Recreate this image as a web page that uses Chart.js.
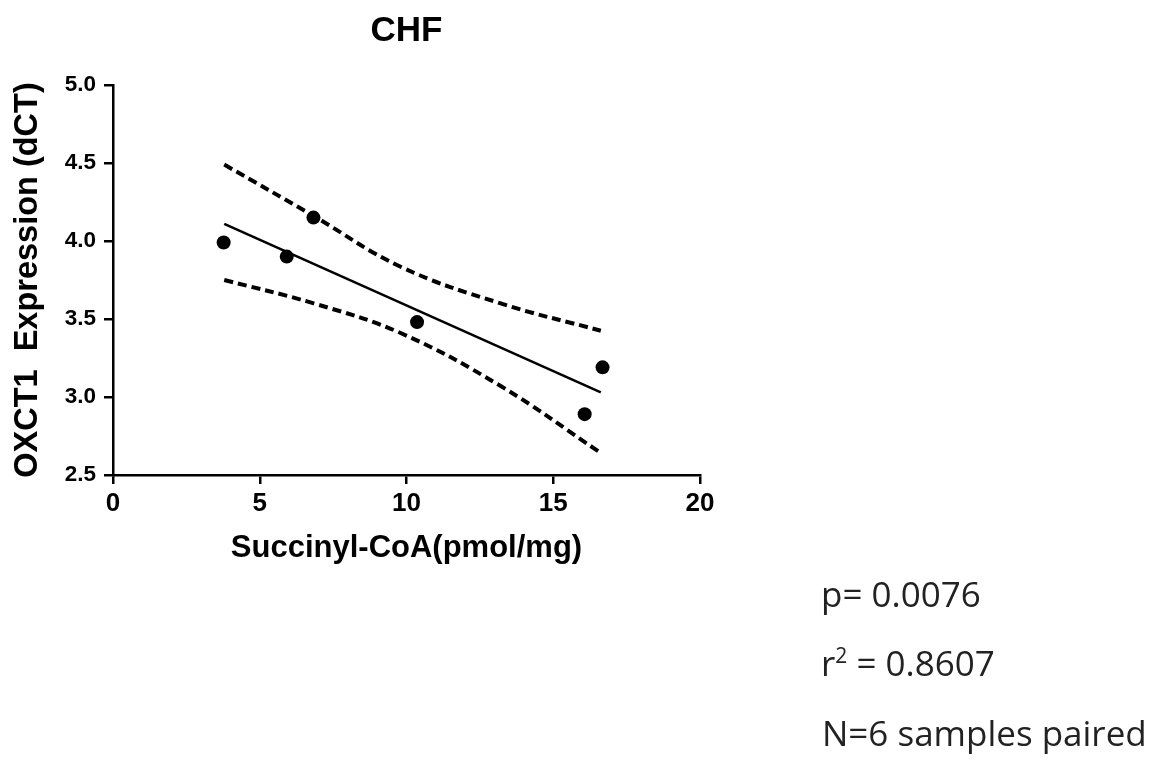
<!DOCTYPE html>
<html>
<head>
<meta charset="utf-8">
<script src="https://cdn.jsdelivr.net/npm/chart.js@4/dist/chart.umd.min.js"></script>
<style>
  html, body { margin: 0; padding: 0; background: #fff; }
  #wrap { position: relative; width: 1168px; height: 762px; }
  .note { position: absolute; font-family: "Open Sans", Lato, sans-serif; font-size: 35px; line-height: 42px; color: #222; white-space: nowrap; }
  .note sup { font-size: 21px; vertical-align: 13px; line-height: 0; }
</style>
</head>
<body>
<div id="wrap">
  <canvas id="c" width="1168" height="762"></canvas>
  <div class="note" style="left:821px; top:573px;">p= 0.0076</div>
  <div class="note" style="left:821px; top:642px;">r<sup>2</sup> = 0.8607</div>
  <div class="note" style="left:822px; top:712px;">N=6 samples paired</div>
</div>
<script>
// Measured samples (Succinyl-CoA pmol/mg vs OXCT1 dCT)
const succinylCoA = [3.77, 5.92, 6.83, 10.36, 16.07, 16.68];
const oxct1 = [3.99, 3.90, 4.15, 3.48, 2.89, 3.19];

// Regression line endpoints
const fitX = [3.79, 16.62];
const fitY = [4.11, 3.03];

// 95% confidence band curves
const upperX = [3.79, 6.84, 9.80, 13.21, 16.62];
const upperY = [4.49, 4.16, 3.835, 3.60, 3.425];
const lowerX = [3.79, 6.84, 9.80, 13.21, 16.56];
const lowerY = [3.75, 3.60, 3.41, 3.07, 2.649];

// Axis ticks
const xTicks = [0, 5, 10, 15, 20];
const yTicks = [2.5, 3.0, 3.5, 4.0, 4.5, 5.0];

const toXY = (xs, ys) => xs.map((x, i) => ({ x: x, y: ys[i] }));

const FONT = "'Liberation Sans', Arial, sans-serif";

new Chart(document.getElementById('c'), {
  type: 'scatter',
  data: {
    datasets: [
      {
        label: 'Upper CI',
        data: toXY(upperX, upperY),
        showLine: true,
        borderColor: '#000',
        borderWidth: 4,
        borderDash: [9, 5],
        pointRadius: 0,
        tension: 0.4,
        fill: false
      },
      {
        label: 'Lower CI',
        data: toXY(lowerX, lowerY),
        showLine: true,
        borderColor: '#000',
        borderWidth: 4,
        borderDash: [9, 5],
        pointRadius: 0,
        tension: 0.4,
        fill: false
      },
      {
        label: 'Fit',
        data: toXY(fitX, fitY),
        showLine: true,
        borderColor: '#000',
        borderWidth: 2.5,
        pointRadius: 0,
        fill: false
      },
      {
        label: 'Samples',
        data: toXY(succinylCoA, oxct1),
        showLine: false,
        pointRadius: 7,
        pointBackgroundColor: '#000',
        pointBorderColor: '#000',
        pointBorderWidth: 0
      }
    ]
  },
  options: {
    responsive: false,
    animation: false,
    devicePixelRatio: 1,
    layout: { padding: { left: 0, right: 468, top: 0, bottom: 0 } },
    plugins: {
      legend: { display: false },
      tooltip: { enabled: false },
      title: {
        display: true,
        fullSize: false,
        text: 'CHF',
        color: '#000',
        font: { family: FONT, size: 35, weight: 'bold' },
        padding: { top: 10, bottom: 33 }
      }
    },
    scales: {
      x: {
        type: 'linear',
        min: 0,
        max: 20,
        afterFit: (s) => { s.height = 287; },
        afterBuildTicks: (s) => { s.ticks = xTicks.map(v => ({ value: v })); },
        ticks: {
          color: '#000',
          font: { family: FONT, size: 26, weight: 'bold' },
          padding: 4,
          maxRotation: 0,
          autoSkip: false
        },
        grid: {
          display: true,
          drawOnChartArea: false,
          drawTicks: true,
          tickLength: 9,
          color: '#000',
          lineWidth: 2.5
        },
        border: { display: true, color: '#000', width: 2.5 },
        title: {
          display: true,
          text: 'Succinyl-CoA(pmol/mg)',
          color: '#000',
          font: { family: FONT, size: 31, weight: 'bold' },
          padding: { top: 0, bottom: 195 }
        }
      },
      y: {
        type: 'linear',
        min: 2.5,
        max: 5.0,
        afterFit: (s) => { s.width = 113; },
        afterBuildTicks: (s) => { s.ticks = yTicks.map(v => ({ value: v })); },
        ticks: {
          color: '#000',
          font: { family: FONT, size: 22.5, weight: 'bold' },
          padding: 8,
          autoSkip: false,
          callback: (v) => Number(v).toFixed(1)
        },
        grid: {
          display: true,
          drawOnChartArea: false,
          drawTicks: true,
          tickLength: 9,
          color: '#000',
          lineWidth: 2.5
        },
        border: { display: true, color: '#000', width: 2.5 },
        title: {
          display: true,
          text: 'OXCT1  Expression (dCT)',
          color: '#000',
          font: { family: FONT, size: 32.5, weight: 'bold' },
          padding: { top: 8.5, bottom: 0 }
        }
      }
    }
  }
});
</script>
</body>
</html>
